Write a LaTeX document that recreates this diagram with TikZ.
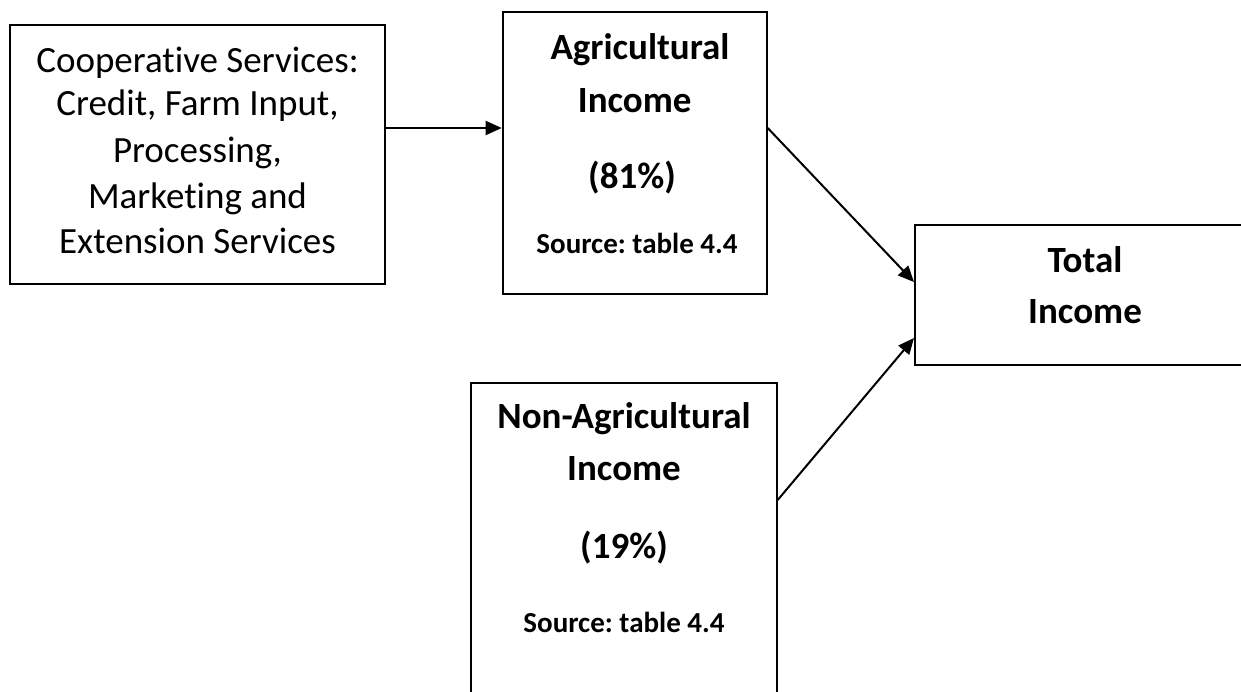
\documentclass[tikz,border=0pt]{standalone}
\usepackage{fontspec}
\setmainfont{Carlito}[Ligatures=NoCommon]
\usetikzlibrary{arrows.meta}
\frenchspacing
\begin{document}
\begin{tikzpicture}[x=1pt,y=-1pt,
  box/.style={draw, line width=2pt, inner sep=0pt},
  conn/.style={line width=2pt, -{Triangle[length=16pt,width=14pt]}},
  reg/.style={font=\fontsize{37}{45}\selectfont, anchor=base, inner sep=0pt},
  bld/.style={font=\fontsize{37}{45}\selectfont\bfseries, anchor=base, inner sep=0pt},
  src/.style={font=\fontsize{29}{35}\selectfont\bfseries, anchor=base, inner sep=0pt}]
\useasboundingbox (0,0) rectangle (1241,691);
\fill[white] (0,0) rectangle (1241,691);
% boxes
\node[box, minimum width=375pt, minimum height=259pt] (coop) at (197.5,154.5) {};
\node[box, minimum width=264pt, minimum height=281.7pt] (agri) at (634.7,153.2) {};
\node[box, minimum width=340pt, minimum height=140pt] (total) at (1085,295) {};
\node[box, minimum width=306pt, minimum height=347.3pt] (nonagri) at (623.7,556.4) {};
% texts
\node[reg] (c1) at (197.5,72) {Cooperative Services:};
\node[reg] (c2) at (197.5,115) {Credit, Farm Input,};
\node[reg] (c3) at (197.5,162) {Processing,};
\node[reg] (c4) at (197.5,208) {Marketing and};
\node[reg] (c5) at (197.5,253) {Extension Services};
\node[bld] (a1) at (640,59) {Agricultural};
\node[bld] (a2) at (634.7,112) {Income};
\node[bld] (a3) at (632,188) {(81\%)};
\node[src] (a4) at (637,253) {Source: table 4.4};
\node[bld] (t1) at (1085,272) {Total};
\node[bld] (t2) at (1085,323) {Income};
\node[bld] (n1) at (624,428) {Non-Agricultural};
\node[bld] (n2) at (624,480) {Income};
\node[bld] (n3) at (624,558) {(19\%)};
\node[src] (n4) at (624,632) {Source: table 4.4};
% connectors
\draw[conn] (coop.east |- 0,128) -- (agri.west |- 0,128);
\draw[conn] (agri.east |- 0,128) -- (total.west |- 0,282);
\draw[conn] (nonagri.east |- 0,500) -- (total.west |- 0,338);
\end{tikzpicture}
\end{document}
